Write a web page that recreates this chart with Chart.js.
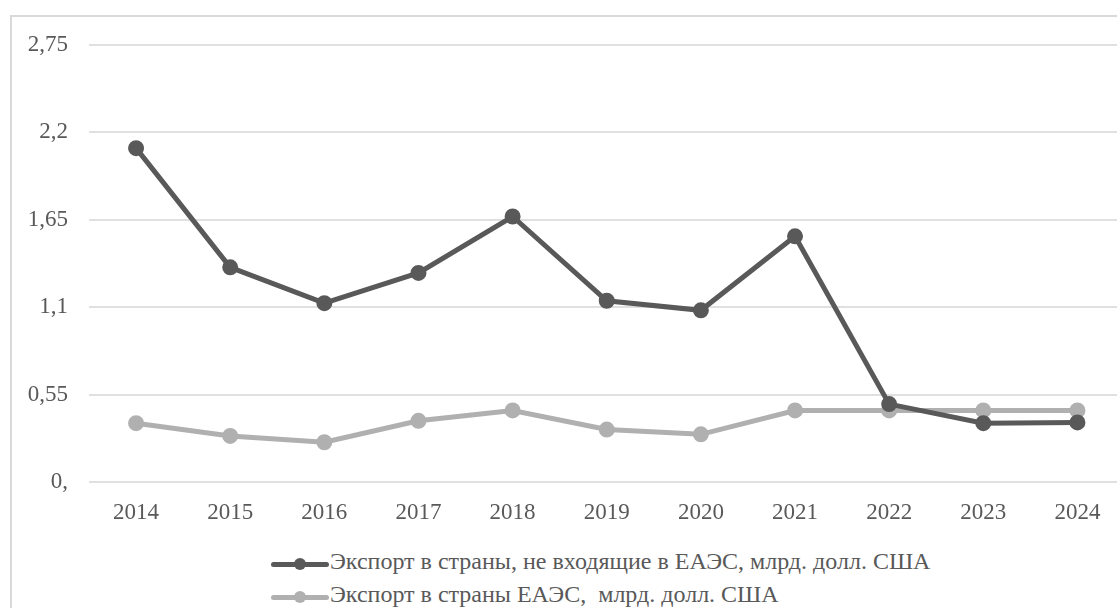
<!DOCTYPE html>
<html>
<head>
<meta charset="utf-8">
<script src="https://cdn.jsdelivr.net/npm/chart.js@4"></script>
<style>
  html, body { margin: 0; padding: 0; background: #fff; }
  body { width: 1117px; height: 608px; position: relative; overflow: hidden; }
  #box {
    position: absolute; left: 10px; top: 15px; width: 1130px; height: 620px;
    border: 2px solid #d9d9d9; box-sizing: border-box;
  }
  #chart { position: absolute; left: 12px; top: 10px; }
  #legend { position: absolute; left: 271px; top: 545px; font-family: "Liberation Serif", "Times New Roman", serif;
    font-size: 24px; color: #595959; white-space: nowrap; }
  #legend div { height: 33px; line-height: 33px; }
  #legend .txt { white-space: pre; }
  .mark { display: inline-block; position: relative; width: 58px; height: 12px; margin-right: 1px; vertical-align: -1px; }
  .line { position: absolute; left: 0; width: 58px; top: 3.5px; height: 5px; border-radius: 3px; }
  .dot { position: absolute; left: 23px; top: 0; width: 12px; height: 12px; border-radius: 50%; }
</style>
</head>
<body>
<div id="box"></div>
<canvas id="chart" width="1123" height="527"></canvas>
<div id="legend">
  <div><span class="mark"><span class="line" style="background:#595959"></span><span class="dot" style="background:#595959"></span></span><span class="txt" id="lab1"></span></div>
  <div><span class="mark"><span class="line" style="background:#b0b0b0"></span><span class="dot" style="background:#b0b0b0"></span></span><span class="txt" id="lab2"></span></div>
</div>
<script>
const years = ['2014', '2015', '2016', '2017', '2018', '2019', '2020', '2021', '2022', '2023', '2024'];
const nonEaeu = [2.10, 1.35, 1.125, 1.315, 1.67, 1.14, 1.08, 1.545, 0.49, 0.37, 0.375];
const eaeu = [0.37, 0.29, 0.25, 0.385, 0.45, 0.33, 0.30, 0.45, 0.45, 0.45, 0.45];
const yTicks = [0, 0.55, 1.1, 1.65, 2.2, 2.75];
const yTickLabels = ['0,', '0,55', '1,1', '1,65', '2,2', '2,75'];
const seriesNames = ['Экспорт в страны, не входящие в ЕАЭС, млрд. долл. США', 'Экспорт в страны ЕАЭС,  млрд. долл. США'];

document.getElementById('lab1').textContent = seriesNames[0];
document.getElementById('lab2').textContent = seriesNames[1];

const font = { family: '"Liberation Serif", "Times New Roman", serif', size: 23 };

new Chart(document.getElementById('chart').getContext('2d'), {
    type: 'line',
    data: {
        labels: years,
        datasets: [{
            label: seriesNames[0],
            data: nonEaeu,
            borderColor: '#595959',
            backgroundColor: '#595959',
            borderWidth: 5,
            pointRadius: 5.5,
            pointHoverRadius: 5.5
        }, {
            label: seriesNames[1],
            data: eaeu,
            borderColor: '#b0b0b0',
            backgroundColor: '#b0b0b0',
            borderWidth: 5,
            pointRadius: 5.5,
            pointHoverRadius: 5.5
        }]
    },
    options: {
        responsive: false,
        animation: false,
        layout: { padding: { top: 20, left: 0, right: 0, bottom: 0 } },
        plugins: { legend: { display: false }, tooltip: { enabled: false } },
        scales: {
            x: {
                offset: true,
                grid: { display: false },
                border: { display: false },
                ticks: { color: '#595959', font: font, padding: 9, maxRotation: 0 },
                afterFit: s => { s.height = 55; }
            },
            y: {
                min: 0,
                max: 2.75,
                afterBuildTicks: s => { s.ticks = yTicks.map(v => ({ value: v })); },
                afterFit: s => { s.width = 77; },
                grid: { color: '#e0e0e0', lineWidth: 2, drawTicks: false },
                border: { display: false },
                ticks: {
                    color: '#595959', font: font, padding: 21,
                    callback: (v, i) => yTickLabels[i]
                }
            }
        }
    }
});
</script>
</body>
</html>
